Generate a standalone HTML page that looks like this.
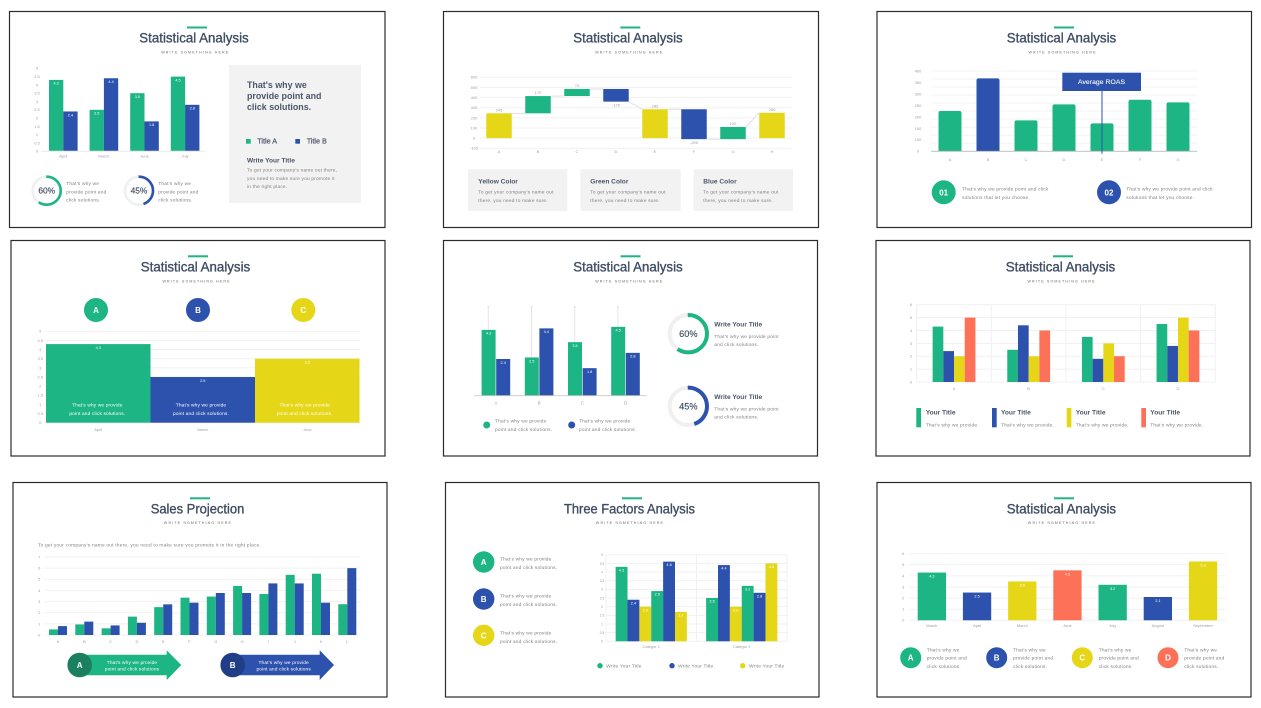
<!DOCTYPE html>
<html lang="en">
<head>
<meta charset="utf-8">
<title>Statistical Analysis slides</title>
<style>
html,body{margin:0;padding:0;background:#fff;width:1261px;height:708px;overflow:hidden}
svg{display:block;font-family:"Liberation Sans",sans-serif;filter:blur(.3px)}
.p{fill:#fff;stroke:#2b2b2b;stroke-width:1.2}
.t{font-size:14px;fill:#3f4d63;stroke:#3f4d63;stroke-width:.35;text-anchor:middle}
.s{font-size:3.6px;fill:#666;text-anchor:middle}
.d{font-size:4.8px;fill:#808080;letter-spacing:.2px}
.w{font-size:4.8px;fill:#fff;letter-spacing:.15px}
.h{font-weight:bold;fill:#4a566b}
.c{font-size:8px;font-weight:bold;fill:#fff;text-anchor:middle}
.tick{font-size:4px;fill:#a0a0a0;text-anchor:middle}
.val{font-size:3.8px;fill:#fff;text-anchor:middle}
</style>
</head>
<body>
<svg id="sheet" width="1261" height="708" viewBox="0 0 1261 708">
<rect width="1261" height="708" fill="#fff"/>

<!-- Panel 1 -->
<rect class="p" x="9.5" y="11.5" width="375.5" height="216"/>
<rect x="187" y="26.5" width="20" height="2" fill="#1db584"/>
<text class="t" x="194" y="42.7" textLength="109.4" lengthAdjust="spacingAndGlyphs">Statistical Analysis</text>
<text class="s" x="194.7" y="53.6" textLength="67">WRITE SOMETHING HERE</text>
<g id="c1"></g>
<g id="c1d"></g>
<g>
<text class="d" x="66.3" y="185">That's why we</text>
<text class="d" x="66.3" y="193.4">provide point and</text>
<text class="d" x="66.3" y="201.7">click solutions.</text>
<text class="d" x="158.3" y="185">That's why we</text>
<text class="d" x="158.3" y="193.4">provide point and</text>
<text class="d" x="158.3" y="201.7">click solutions.</text>
</g>
<rect x="229" y="65" width="132" height="138" fill="#f2f2f2"/>
<g>
<text x="247" y="88" font-size="8.9" font-weight="bold" fill="#4a566b">That's why we</text>
<text x="247" y="99" font-size="8.9" font-weight="bold" fill="#4a566b">provide point and</text>
<text x="247" y="110" font-size="8.9" font-weight="bold" fill="#4a566b">click solutions.</text>
<rect x="246" y="139" width="4.7" height="4.7" fill="#1db584"/>
<text x="257.3" y="143.7" font-size="7.2" fill="#4a566b" stroke="#4a566b" stroke-width=".2">Title A</text>
<rect x="295.3" y="139" width="4.7" height="4.7" fill="#2c52ad"/>
<text x="306.7" y="143.7" font-size="7.2" fill="#4a566b" stroke="#4a566b" stroke-width=".2">Title B</text>
<text class="h" x="247" y="162.3" font-size="6.6">Write Your Title</text>
<text class="d" x="247" y="171.7">To get your company's name out there,</text>
<text class="d" x="247" y="180">you need to make sure you promote it</text>
<text class="d" x="247" y="188">in the right place.</text>
</g>

<!-- Panel 2 -->
<rect class="p" x="443.5" y="11.5" width="375" height="216"/>
<rect x="620.3" y="26.5" width="20" height="2" fill="#1db584"/>
<text class="t" x="628" y="42.7" textLength="109.4" lengthAdjust="spacingAndGlyphs">Statistical Analysis</text>
<text class="s" x="628.7" y="53.6" textLength="67">WRITE SOMETHING HERE</text>
<g id="c2"></g>
<g>
<rect x="468" y="169.3" width="99.3" height="41.7" fill="#f2f2f2"/>
<rect x="580.3" y="169.3" width="100.4" height="41.7" fill="#f2f2f2"/>
<rect x="693.7" y="169.3" width="99.3" height="41.7" fill="#f2f2f2"/>
<text class="h" x="478.3" y="183.7" font-size="6.6">Yellow Color</text>
<text class="d" x="478.3" y="193.7">To get your company's name out</text>
<text class="d" x="478.3" y="202">there, you need to make sure.</text>
<text class="h" x="590.3" y="183.7" font-size="6.6">Green Color</text>
<text class="d" x="590.3" y="193.7">To get your company's name out</text>
<text class="d" x="590.3" y="202">there, you need to make sure.</text>
<text class="h" x="703.3" y="183.7" font-size="6.6">Blue Color</text>
<text class="d" x="703.3" y="193.7">To get your company's name out</text>
<text class="d" x="703.3" y="202">there, you need to make sure.</text>
</g>

<!-- Panel 3 -->
<rect class="p" x="877" y="11.5" width="374.5" height="216"/>
<rect x="1054" y="26.5" width="20" height="2" fill="#1db584"/>
<text class="t" x="1061.5" y="42.7" textLength="109.4" lengthAdjust="spacingAndGlyphs">Statistical Analysis</text>
<text class="s" x="1062" y="53.6" textLength="67">WRITE SOMETHING HERE</text>
<g id="c3"></g>
<g>
<line x1="1102" y1="91" x2="1102" y2="153.7" stroke="#2c52ad" stroke-width="1"/>
<rect x="1062.3" y="72.7" width="78.7" height="18.3" fill="#2c52ad"/>
<text x="1101.5" y="84" font-size="6.8" fill="#fff" text-anchor="middle" stroke="#fff" stroke-width=".1" textLength="47">Average ROAS</text>
</g>
<g>
<circle cx="943.7" cy="192.3" r="12" fill="#1db584"/>
<text class="c" x="943.7" y="195.3">01</text>
<text class="d" x="962" y="190.7">That's why we provide point and click</text>
<text class="d" x="962" y="199">solutions that let you choose.</text>
<circle cx="1109" cy="192.3" r="12" fill="#2c52ad"/>
<text class="c" x="1109" y="195.3">02</text>
<text class="d" x="1126.3" y="190.7">That's why we provide point and click</text>
<text class="d" x="1126.3" y="199">solutions that let you choose.</text>
</g>

<!-- Panel 4 -->
<rect class="p" x="11" y="240.5" width="374" height="215.5"/>
<rect x="188" y="255.3" width="20" height="2" fill="#1db584"/>
<text class="t" x="195.5" y="271.7" textLength="109.4" lengthAdjust="spacingAndGlyphs">Statistical Analysis</text>
<text class="s" x="196" y="282.4" textLength="67">WRITE SOMETHING HERE</text>
<g>
<circle cx="96" cy="310" r="12" fill="#1db584"/>
<text class="c" x="96" y="313">A</text>
<circle cx="198" cy="310" r="12" fill="#2c52ad"/>
<text class="c" x="198" y="313">B</text>
<circle cx="303.3" cy="310" r="12" fill="#e5d718"/>
<text class="c" x="303.3" y="313">C</text>
</g>
<g id="c4"></g>
<g>
<text class="w" x="97.3" y="406.7" text-anchor="middle">That's why we provide</text>
<text class="w" x="97.3" y="415" text-anchor="middle">point and click solutions.</text>
<text class="w" x="201" y="406.7" text-anchor="middle">That's why we provide</text>
<text class="w" x="201" y="415" text-anchor="middle">point and click solutions.</text>
<text class="w" x="304.7" y="406.7" text-anchor="middle">That's why we provide</text>
<text class="w" x="304.7" y="415" text-anchor="middle">point and click solutions.</text>
</g>

<!-- Panel 5 -->
<rect class="p" x="443.5" y="240.5" width="374" height="215.5"/>
<rect x="620.5" y="255.3" width="20" height="2" fill="#1db584"/>
<text class="t" x="628" y="271.7" textLength="109.4" lengthAdjust="spacingAndGlyphs">Statistical Analysis</text>
<text class="s" x="628.7" y="282.4" textLength="67">WRITE SOMETHING HERE</text>
<g id="c5"></g>
<g id="c5d"></g>
<g>
<circle cx="486.7" cy="425" r="3.5" fill="#1db584"/>
<text class="d" x="495" y="422.7">That's why we provide</text>
<text class="d" x="495" y="431">point and click solutions.</text>
<circle cx="571.7" cy="425" r="3.5" fill="#2c52ad"/>
<text class="d" x="579" y="422.7">That's why we provide</text>
<text class="d" x="579" y="431">point and click solutions.</text>
<text class="h" x="714.3" y="326.3" font-size="6.6">Write Your Title</text>
<text class="d" x="714.3" y="338">That's why we provide point</text>
<text class="d" x="714.3" y="346">and click solutions.</text>
<text class="h" x="714.3" y="399" font-size="6.6">Write Your Title</text>
<text class="d" x="714.3" y="410.7">That's why we provide point</text>
<text class="d" x="714.3" y="418.7">and click solutions.</text>
</g>

<!-- Panel 6 -->
<rect class="p" x="876" y="240.5" width="374" height="215.5"/>
<rect x="1053" y="255.3" width="20" height="2" fill="#1db584"/>
<text class="t" x="1060.5" y="271.7" textLength="109.4" lengthAdjust="spacingAndGlyphs">Statistical Analysis</text>
<text class="s" x="1061" y="282.4" textLength="67">WRITE SOMETHING HERE</text>
<g id="c6"></g>
<g>
<rect x="916.3" y="408" width="4.7" height="19.3" fill="#1db584"/>
<text class="h" x="925.7" y="414.7" font-size="6.6">Your Title</text>
<text class="d" x="925.7" y="426.4">That's why we provide.</text>
<rect x="992" y="408" width="4.7" height="19.3" fill="#2c52ad"/>
<text class="h" x="1001" y="414.7" font-size="6.6">Your Title</text>
<text class="d" x="1001" y="426.4">That's why we provide.</text>
<rect x="1066.7" y="408" width="4.7" height="19.3" fill="#e5d718"/>
<text class="h" x="1075.7" y="414.7" font-size="6.6">Your Title</text>
<text class="d" x="1075.7" y="426.4">That's why we provide.</text>
<rect x="1141.3" y="408" width="4.7" height="19.3" fill="#fc7157"/>
<text class="h" x="1150.3" y="414.7" font-size="6.6">Your Title</text>
<text class="d" x="1150.3" y="426.4">That's why we provide.</text>
</g>

<!-- Panel 7 -->
<rect class="p" x="13" y="482.5" width="374" height="214.5"/>
<rect x="190" y="497.3" width="20" height="2" fill="#1db584"/>
<text class="t" x="197.5" y="513.3" textLength="93.6" lengthAdjust="spacingAndGlyphs">Sales Projection</text>
<text class="s" x="197.4" y="524" textLength="67">WRITE SOMETHING HERE</text>
<text class="d" x="38" y="546.4" textLength="223">To get your company's name out there, you need to make sure you promote it in the right place.</text>
<g id="c7"></g>
<g>
<polygon points="79.7,654.7 166.7,654.7 166.7,650.3 181.3,665 166.7,680 166.7,675.3 79.7,675.3" fill="#1db584"/>
<circle cx="79.7" cy="665" r="12.3" fill="#1a8060"/>
<text class="c" x="79.7" y="668">A</text>
<text class="w" x="132" y="664" text-anchor="middle">That's why we provide</text>
<text class="w" x="132" y="670.5" text-anchor="middle">point and click solutions</text>
<polygon points="232.7,654.7 319.7,654.7 319.7,650.3 334,665 319.7,680 319.7,675.3 232.7,675.3" fill="#2c52ad"/>
<circle cx="232.7" cy="665" r="12.3" fill="#203d86"/>
<text class="c" x="232.7" y="668">B</text>
<text class="w" x="283.7" y="664" text-anchor="middle">That's why we provide</text>
<text class="w" x="283.7" y="670.5" text-anchor="middle">point and click solutions</text>
</g>

<!-- Panel 8 -->
<rect class="p" x="445.5" y="482.5" width="373.5" height="214.5"/>
<rect x="622" y="497.3" width="20" height="2" fill="#1db584"/>
<text class="t" x="629.5" y="513.3" textLength="131" lengthAdjust="spacingAndGlyphs">Three Factors Analysis</text>
<text class="s" x="629.4" y="524" textLength="67">WRITE SOMETHING HERE</text>
<g>
<circle cx="483.7" cy="562" r="10.7" fill="#1db584"/>
<text class="c" x="483.7" y="565">A</text>
<text class="d" x="500" y="560.7">That's why we provide</text>
<text class="d" x="500" y="569">point and click solutions.</text>
<circle cx="483.7" cy="599" r="10.7" fill="#2c52ad"/>
<text class="c" x="483.7" y="602">B</text>
<text class="d" x="500" y="597.7">That's why we provide</text>
<text class="d" x="500" y="606">point and click solutions.</text>
<circle cx="483.7" cy="635.3" r="10.7" fill="#e5d718"/>
<text class="c" x="483.7" y="638.3">C</text>
<text class="d" x="500" y="634.7">That's why we provide</text>
<text class="d" x="500" y="643">point and click solutions.</text>
</g>
<g id="c8"></g>
<g>
<circle cx="600" cy="665.7" r="2.7" fill="#1db584"/>
<text class="d" x="606.3" y="667.4">Write Your Title</text>
<circle cx="672" cy="665.7" r="2.7" fill="#2c52ad"/>
<text class="d" x="678" y="667.4">Write Your Title</text>
<circle cx="742.7" cy="665.7" r="2.7" fill="#e5d718"/>
<text class="d" x="749" y="667.4">Write Your Title</text>
</g>

<!-- Panel 9 -->
<rect class="p" x="877" y="482.5" width="374" height="214.5"/>
<rect x="1054" y="497.3" width="20" height="2" fill="#1db584"/>
<text class="t" x="1061.4" y="513.3" textLength="109.4" lengthAdjust="spacingAndGlyphs">Statistical Analysis</text>
<text class="s" x="1061.4" y="524" textLength="67">WRITE SOMETHING HERE</text>
<g id="c9"></g>
<g>
<circle cx="910.7" cy="657.7" r="10.5" fill="#1db584"/>
<text class="c" x="910.7" y="660.7">A</text>
<text class="d" x="926.7" y="651.7">That's why we</text>
<text class="d" x="926.7" y="659.7">provide point and</text>
<text class="d" x="926.7" y="668">click solutions.</text>
<circle cx="996.7" cy="657.7" r="10.5" fill="#2c52ad"/>
<text class="c" x="996.7" y="660.7">B</text>
<text class="d" x="1013" y="651.7">That's why we</text>
<text class="d" x="1013" y="659.7">provide point and</text>
<text class="d" x="1013" y="668">click solutions.</text>
<circle cx="1082.3" cy="657.7" r="10.5" fill="#e5d718"/>
<text class="c" x="1082.3" y="660.7">C</text>
<text class="d" x="1098.7" y="651.7">That's why we</text>
<text class="d" x="1098.7" y="659.7">provide point and</text>
<text class="d" x="1098.7" y="668">click solutions.</text>
<circle cx="1168" cy="657.7" r="10.5" fill="#fc7157"/>
<text class="c" x="1168" y="660.7">D</text>
<text class="d" x="1184.3" y="651.7">That's why we</text>
<text class="d" x="1184.3" y="659.7">provide point and</text>
<text class="d" x="1184.3" y="668">click solutions.</text>
</g>
</svg>

<script>
// ---------- chart data ----------
const chart1Categories = ["April", "March", "June", "July"];
const chart1TitleA = [4.3, 2.5, 3.5, 4.5];
const chart1TitleB = [2.4, 4.4, 1.8, 2.8];
const chart1Ticks = [0, 0.5, 1, 1.5, 2, 2.5, 3, 3.5, 4, 4.5, 5];
const chart1Gauges = [60, 45];

const chart2Categories = ["A", "B", "C", "D", "E", "F", "G", "H"];
const chart2Open = [0, 245, 415, 485, 0, 285, -10, 0];
const chart2Close = [245, 415, 485, 360, 285, -10, 110, 250];
const chart2Kinds = ["total", "up", "up", "down", "total", "down", "up", "total"];
const chart2Ticks = [-100, 0, 100, 200, 300, 400, 500, 600];

const chart3Categories = ["A", "B", "C", "D", "E", "F", "G"];
const chart3Values = [201, 363, 154, 234, 139, 257, 244];
const chart3HighlightCategory = "B";
const chart3TickLabels = ["0", "100", "150", "200", "250", "300", "350", "400"];
const chart3GridValues = [0, 40, 80, 120, 160, 200, 240, 280, 320, 360, 400];

const chart4Categories = ["April", "March", "June"];
const chart4Values = [4.3, 2.5, 3.5];
const chart4Ticks = [0, 0.5, 1, 1.5, 2, 2.5, 3, 3.5, 4, 4.5, 5];

const chart5Categories = ["A", "B", "C", "D"];
const chart5Green = [4.3, 2.5, 3.5, 4.5];
const chart5Blue = [2.4, 4.4, 1.8, 2.8];
const chart5WhiskerTop = [5.8, 5.8, 5.8, 5.8];
const chart5Gauges = [60, 45];

const chart6Categories = ["A", "B", "C", "D"];
const chart6Green = [4.3, 2.5, 3.5, 4.5];
const chart6Blue = [2.4, 4.4, 1.8, 2.8];
const chart6Yellow = [2, 2, 3, 5];
const chart6Orange = [5, 4, 2, 4];
const chart6Ticks = [0, 1, 2, 3, 4, 5, 6];

const chart7Categories = ["A", "B", "C", "D", "E", "F", "G", "H", "I", "J", "K", "L"];
const chart7Green = [0.5, 0.95, 0.6, 1.65, 2.5, 3.35, 3.45, 4.4, 3.68, 5.4, 5.5, 2.76];
const chart7Blue = [0.8, 1.2, 0.86, 1.1, 2.75, 2.9, 3.77, 3.77, 4.63, 4.63, 2.9, 6];
const chart7Ticks = [0, 1, 2, 3, 4, 5, 6, 7];

const chart8Categories = ["Categor 1", "Categor 2"];
const chart8Series1 = [4.3, 2.5];
const chart8Series2 = [2.4, 4.4];
const chart8Series3 = [2, 2];
const chart8Series4 = [2.9, 3.2];
const chart8Series5 = [4.6, 2.8];
const chart8Series6 = [1.7, 4.5];
const chart8Ticks = [0, 0.5, 1, 1.5, 2, 2.5, 3, 3.5, 4, 4.5, 5];

const chart9Categories = ["March", "April", "March", "June", "July", "August", "September"];
const chart9Values = [4.3, 2.5, 3.5, 4.5, 3.2, 2.1, 5.3];
const chart9Ticks = [0, 1, 2, 3, 4, 5, 6];

// ---------- helpers ----------
const GREEN = "#1db584", BLUE = "#2c52ad", YELLOW = "#e5d718", ORANGE = "#fc7157", GRID = "#f1f1f1";
const NS = "http://www.w3.org/2000/svg";

function mk(parent, tag, attrs, name, content) {
  const el = document.createElementNS(NS, tag);
  for (const k in attrs) el.setAttribute(k, attrs[k]);
  
  
  if (content !== undefined) el.textContent = content;
  parent.appendChild(el);
  return el;
}
function linear(d0, d1, r0, r1) {
  return v => r0 + (v - d0) * (r1 - r0) / (d1 - d0);
}
function band(x0, step) {
  return i => x0 + step * i;
}
function $(id) { return document.getElementById(id); }

function hGrid(g, values, y, x0, x1, color, w) {
  values.forEach(v => {
    mk(g, 'line', {x1: x0, x2: x1, y1: y(v), y2: y(v), stroke: color || GRID, 'stroke-width': w || 1}, 'gridline');
  });
}
function yTicks(g, values, y, x, size) {
  values.forEach(v => {
    mk(g, 'text', {class: 'tick', x: x, y: y(v) + 1.4, style: size ? 'font-size:' + size + 'px' : ''}, 'y-axis-tick', v);
  });
}
function xLabels(g, cats, center, y, size) {
  cats.forEach((c, i) => {
    mk(g, 'text', {class: 'tick', x: center(i), y: y, style: size ? 'font-size:' + size + 'px' : ''}, 'x-axis-label', c);
  });
}
function bar(g, x, w, y0, y1, fill, name, label, labelDy, labelColor) {
  mk(g, 'rect', {x: x, y: Math.min(y0, y1), width: w, height: Math.abs(y1 - y0), fill: fill}, name);
  if (label !== undefined) {
    mk(g, 'text', {class: 'val', x: x + w / 2, y: y1 + (labelDy || 4.8), style: labelColor ? 'fill:' + labelColor : ''}, 'bar-value', label);
  }
}
function fmt(v) { return v.toFixed(1); }
function gauge(g, cx, cy, r, sw, pct, color, size) {
  mk(g, 'circle', {cx: cx, cy: cy, r: r, fill: 'none', stroke: '#f0f0f0', 'stroke-width': sw}, 'gauge-track');
  mk(g, 'circle', {cx: cx, cy: cy, r: r, fill: 'none', stroke: color, 'stroke-width': sw, pathLength: 100,
    'stroke-dasharray': pct + ' ' + (100 - pct), transform: 'rotate(-90 ' + cx + ' ' + cy + ')'}, 'gauge-arc');
  mk(g, 'text', {x: cx, y: cy + size * 0.36, 'font-size': size, fill: '#3f4d63', stroke: '#3f4d63', 'stroke-width': 0.15, 'text-anchor': 'middle'}, 'gauge-value', pct + '%');
}

// ---------- chart 1 ----------
(function () {
  const g = $('c1');
  const y = linear(0, 5, 151.3, 68.3);
  const step = 40.6, x = band(43, step), bw = 14.3;
  yTicks(g, chart1Ticks, y, 37);
  chart1Categories.forEach((c, i) => {
    const cx = x(i) + step / 2;
    bar(g, cx - bw, bw, y(0), y(chart1TitleA[i]), GREEN, 'bar-title-a', fmt(chart1TitleA[i]));
    bar(g, cx, bw, y(0), y(chart1TitleB[i]), BLUE, 'bar-title-b', fmt(chart1TitleB[i]));
  });
  mk(g, 'line', {x1: 41.3, x2: 204.7, y1: y(0), y2: y(0), stroke: '#e8e8e8', 'stroke-width': 1}, 'x-axis-line');
  xLabels(g, chart1Categories, i => x(i) + step / 2, 157.5);
  const d = $('c1d');
  const cxs = [46.7, 139];
  chart1Gauges.forEach((p, i) => {
    gauge(d, cxs[i], 190.7, 14, 2.6, p, i ? BLUE : GREEN, 8.4);
  });
})();

// ---------- chart 2 ----------
(function () {
  const g = $('c2');
  const y = linear(-100, 600, 148.3, 77.3);
  const step = 39, x = band(479.5, step), bw = 25.5;
  hGrid(g, chart2Ticks, y, 480, 791.7);
  yTicks(g, chart2Ticks, y, 474);
  const colors = {total: YELLOW, up: GREEN, down: BLUE};
  chart2Categories.forEach((c, i) => {
    const bx = x(i) + (step - bw) / 2;
    if (i < chart2Categories.length - 1) {
      const next = chart2Kinds[i + 1] === 'total' ? chart2Close[i + 1] : chart2Open[i + 1];
      mk(g, 'line', {x1: bx + bw, x2: bx + step, y1: y(chart2Close[i]), y2: y(next), stroke: '#dcdcdc', 'stroke-width': 0.9}, 'waterfall-connector');
    }
  });
  chart2Categories.forEach((c, i) => {
    const bx = x(i) + (step - bw) / 2;
    const delta = chart2Close[i] - chart2Open[i];
    bar(g, bx, bw, y(chart2Open[i]), y(chart2Close[i]), colors[chart2Kinds[i]], 'waterfall-bar');
    const ly = delta < 0 ? y(chart2Close[i]) + 5 : y(chart2Close[i]) - 2;
    mk(g, 'text', {class: 'tick', x: bx + bw / 2, y: ly}, 'bar-value', delta);
  });
  xLabels(g, chart2Categories, i => x(i) + step / 2, 153);
})();

// ---------- chart 3 ----------
(function () {
  const g = $('c3');
  const y = linear(0, 400, 151.3, 71);
  const step = 38, x = band(931, step), bw = 23;
  hGrid(g, chart3GridValues, y, 931, 1197.3, '#f3f3f3');
  chart3TickLabels.forEach((t, i) => {
    const ty = linear(0, chart3TickLabels.length - 1, 151.3, 71)(i);
    mk(g, 'text', {class: 'tick', x: 918, y: ty + 1.4}, 'y-axis-tick', t);
  });
  chart3Categories.forEach((c, i) => {
    const bx = x(i) + (step - bw) / 2, top = y(chart3Values[i]), h = y(0) - top;
    const fill = c === chart3HighlightCategory ? BLUE : GREEN;
    mk(g, 'path', {d: 'M' + bx + ' ' + y(0) + 'V' + (top + 2) + 'Q' + bx + ' ' + top + ' ' + (bx + 2) + ' ' + top +
      'H' + (bx + bw - 2) + 'Q' + (bx + bw) + ' ' + top + ' ' + (bx + bw) + ' ' + (top + 2) + 'V' + y(0) + 'Z', fill: fill}, 'bar');
  });
  mk(g, 'line', {x1: 931, x2: 1197.3, y1: y(0), y2: y(0), stroke: '#bdbdbd', 'stroke-width': 0.9}, 'x-axis-line');
  xLabels(g, chart3Categories, i => x(i) + step / 2, 161.2);
})();

// ---------- chart 4 ----------
(function () {
  const g = $('c4');
  const y = linear(0, 5, 422.7, 331.3);
  const x0 = 46, step = 104.5, x = band(x0, step);
  hGrid(g, chart4Ticks, y, 45.7, 360);
  yTicks(g, chart4Ticks, y, 40.3);
  const colors = [GREEN, BLUE, YELLOW];
  chart4Categories.forEach((c, i) => {
    bar(g, x(i), step, y(0), y(chart4Values[i]), colors[i], 'bar', fmt(chart4Values[i]), 5);
  });
  xLabels(g, chart4Categories, i => x(i) + step / 2, 431);
})();

// ---------- chart 5 ----------
(function () {
  const g = $('c5');
  const y = linear(0, 5, 395.7, 319.2);
  const step = 43.2, x = band(474.3, step), bw = 14;
  chart5Categories.forEach((c, i) => {
    const cx = x(i) + step / 2;
    const wx = cx - bw / 2 - 0.6;
    const wTop = y(chart5WhiskerTop[i]);
    mk(g, 'line', {x1: wx, x2: wx, y1: wTop, y2: y(chart5Green[i]), stroke: '#e6e6e6', 'stroke-width': 1}, 'error-whisker');
    mk(g, 'circle', {cx: wx, cy: wTop, r: 1, fill: '#e0e0e0'}, 'whisker-cap');
    bar(g, cx - bw - 0.3, bw, y(0), y(chart5Green[i]), GREEN, 'bar-green', fmt(chart5Green[i]));
    bar(g, cx + 0.3, bw, y(0), y(chart5Blue[i]), BLUE, 'bar-blue', fmt(chart5Blue[i]));
  });
  mk(g, 'line', {x1: 474.3, x2: 646.7, y1: y(0), y2: y(0), stroke: '#c8c8c8', 'stroke-width': 0.9}, 'x-axis-line');
  xLabels(g, chart5Categories, i => x(i) + step / 2, 404.5, 4.4);
  const d = $('c5d');
  const cys = [333.7, 406.3];
  chart5Gauges.forEach((p, i) => {
    gauge(d, 688.3, cys[i], 18.7, 4, p, i ? BLUE : GREEN, 9.2);
  });
})();

// ---------- chart 6 ----------
(function () {
  const g = $('c6');
  const y = linear(0, 6, 382, 304.7);
  const step = 74.65, x = band(916.7, step), bw = 10.7;
  hGrid(g, chart6Ticks, y, 916.7, 1215.3);
  chart6Categories.forEach((c, i) => {
    mk(g, 'line', {x1: x(i), x2: x(i), y1: y(6), y2: y(0), stroke: GRID, 'stroke-width': 1}, 'vertical-gridline');
  });
  mk(g, 'line', {x1: 1215.3, x2: 1215.3, y1: y(6), y2: y(0), stroke: GRID, 'stroke-width': 1}, 'vertical-gridline');
  yTicks(g, chart6Ticks, y, 911);
  const series = [chart6Green, chart6Blue, chart6Yellow, chart6Orange];
  const colors = [GREEN, BLUE, YELLOW, ORANGE];
  chart6Categories.forEach((c, i) => {
    const start = x(i) + step / 2 - 2 * bw;
    series.forEach((s, j) => {
      bar(g, start + j * bw, bw, y(0), y(s[i]), colors[j], 'bar');
    });
  });
  xLabels(g, chart6Categories, i => x(i) + step / 2, 390);
})();

// ---------- chart 7 ----------
(function () {
  const g = $('c7');
  const y = linear(0, 7, 635, 557);
  const step = 26.3, x = band(44.85, step), bw = 9;
  hGrid(g, chart7Ticks, y, 44.7, 360.7);
  yTicks(g, chart7Ticks, y, 39.3);
  chart7Categories.forEach((c, i) => {
    const cx = x(i) + step / 2;
    bar(g, cx - bw, bw, y(0), y(chart7Green[i]), GREEN, 'bar-green');
    bar(g, cx, bw, y(0), y(chart7Blue[i]), BLUE, 'bar-blue');
  });
  xLabels(g, chart7Categories, i => x(i) + step / 2, 643.2);
})();

// ---------- chart 8 ----------
(function () {
  const g = $('c8');
  const y = linear(0, 5, 641.3, 554.7);
  const step = 90.5, x = band(606, step), bw = 11.87;
  hGrid(g, chart8Ticks, y, 606, 787);
  [0, 1, 2].forEach(i => {
    mk(g, 'line', {x1: x(i), x2: x(i), y1: y(5), y2: y(0), stroke: GRID, 'stroke-width': 1}, 'vertical-gridline');
  });
  yTicks(g, chart8Ticks, y, 602, 3.2);
  const series = [chart8Series1, chart8Series2, chart8Series3, chart8Series4, chart8Series5, chart8Series6];
  const colors = [GREEN, BLUE, YELLOW, GREEN, BLUE, YELLOW];
  chart8Categories.forEach((c, i) => {
    const start = x(i) + step / 2 - 3 * bw;
    series.forEach((s, j) => {
      bar(g, start + j * bw, bw, y(0), y(s[i]), colors[j], 'bar', fmt(s[i]), 4.6);
    });
  });
  xLabels(g, chart8Categories, i => x(i) + step / 2, 648);
})();

// ---------- chart 9 ----------
(function () {
  const g = $('c9');
  const y = linear(0, 6, 620.3, 553.7);
  const step = 45.2, x = band(909.25, step), bw = 28.3;
  hGrid(g, chart9Ticks, y, 909, 1225.7);
  yTicks(g, chart9Ticks, y, 903.3);
  const colors = [GREEN, BLUE, YELLOW, ORANGE, GREEN, BLUE, YELLOW];
  chart9Categories.forEach((c, i) => {
    bar(g, x(i) + (step - bw) / 2, bw, y(0), y(chart9Values[i]), colors[i], 'bar', fmt(chart9Values[i]), 5);
  });
  xLabels(g, chart9Categories, i => x(i) + step / 2, 627.2);
})();
</script>
</body>
</html>
